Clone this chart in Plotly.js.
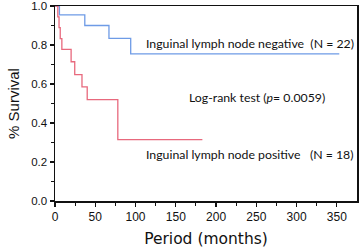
<!DOCTYPE html>
<html><head><meta charset="utf-8">
<script src="https://cdn.plot.ly/plotly-3.0.1.min.js"></script>
<style>html,body{margin:0;padding:0;background:#fff}#c{width:359px;height:248px}</style>
</head><body><div id="c"></div>
<script>
const negTime = [0, 5.5, 37, 67, 94, 353];
const negSurv = [1, 0.955, 0.90, 0.834, 0.755, 0.755];
const posTime = [0, 3.5, 5, 6.5, 8.5, 20, 24.5, 33.5, 40, 78, 183];
const posSurv = [1, 0.944, 0.889, 0.833, 0.778, 0.714, 0.648, 0.585, 0.52, 0.315, 0.315];
const labels = ["Inguinal lymph node negative  (N = 22)", "Log-rank test (<i>p</i>= 0.0059)", "Inguinal lymph node positive   (N = 18)"];

const traces = [
  {x: negTime, y: negSurv, mode: 'lines', line: {shape: 'hv', color: '#6e9be6', width: 1.3}, hoverinfo: 'skip'},
  {x: posTime, y: posSurv, mode: 'lines', line: {shape: 'hv', color: '#e8697d', width: 1.3}, hoverinfo: 'skip'}
];
const annFont = {family: 'Lato, "Open Sans", sans-serif', size: 12.3, color: '#111'};
const layout = {
  width: 359, height: 248,
  margin: {l: 55, r: 2, t: 6, b: 47},
  paper_bgcolor: '#fff', plot_bgcolor: '#fff',
  showlegend: false,
  font: {family: '"Liberation Sans", Arial, sans-serif', size: 12, color: '#111'},
  xaxis: {
    range: [0, 375], tickvals: [0, 50, 100, 150, 200, 250, 300, 350],
    ticks: 'outside', ticklen: 4, tickwidth: 1.2, tickcolor: '#111',
    minor: {tickvals: [25, 75, 125, 175, 225, 275, 325], ticks: 'outside', ticklen: 3, tickcolor: '#111', tickwidth: 1},
    showline: true, linecolor: '#111', linewidth: 1.5, mirror: true,
    showgrid: false, zeroline: false,
    ticklabeloverflow: 'allow',
    tickfont: {size: 12},
    title: {text: 'Period (months)', font: {size: 15.5, family: '"DejaVu Sans", sans-serif'}, standoff: 10}
  },
  yaxis: {
    range: [0, 1], tickvals: [0, 0.2, 0.4, 0.6, 0.8, 1.0], ticktext: ['0.0', '0.2', '0.4', '0.6', '0.8', '1.0'],
    ticks: 'outside', ticklen: 4, tickwidth: 1.2, tickcolor: '#111',
    minor: {tickvals: [0.1, 0.3, 0.5, 0.7, 0.9], ticks: 'outside', ticklen: 3, tickcolor: '#111', tickwidth: 1},
    showline: true, linecolor: '#111', linewidth: 1.5, mirror: true,
    showgrid: false, zeroline: false,
    ticklabeloverflow: 'allow',
    tickfont: {size: 11.5},
    title: {text: '% Survival', font: {size: 15}, standoff: 8}
  },
  annotations: [
    {x: 0.295, y: 0.81, xref: 'paper', yref: 'paper', xanchor: 'left', yanchor: 'middle', text: labels[0], showarrow: false, font: annFont},
    {x: 0.437, y: 0.532, xref: 'paper', yref: 'paper', xanchor: 'left', yanchor: 'middle', text: labels[1], showarrow: false, font: annFont},
    {x: 0.295, y: 0.237, xref: 'paper', yref: 'paper', xanchor: 'left', yanchor: 'middle', text: labels[2], showarrow: false, font: annFont}
  ]
};
Plotly.newPlot('c', traces, layout, {staticPlot: true, displayModeBar: false});
</script></body></html>
